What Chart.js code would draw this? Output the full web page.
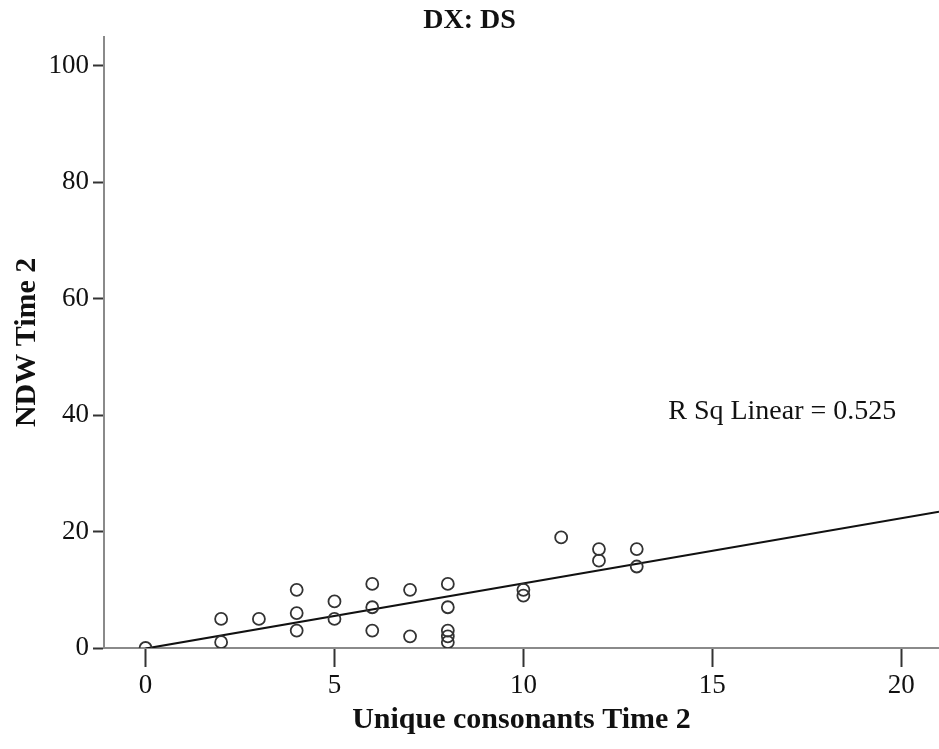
<!DOCTYPE html>
<html>
<head>
<meta charset="utf-8">
<script src="https://cdn.jsdelivr.net/npm/chart.js@4/dist/chart.umd.min.js"></script>
<style>
  html, body { margin: 0; padding: 0; background: #fff; }
  #wrap { width: 939px; height: 749px; }
</style>
</head>
<body>
<div id="wrap"><canvas id="scatter"></canvas></div>
<script>
// ---- data ----
const xValues = [0, 2, 2, 3, 4, 4, 4, 5, 5, 6, 6, 6, 7, 7, 8, 8, 8, 8, 8, 10, 10, 11, 12, 12, 13, 13];
const yValues = [0, 5, 1, 5, 10, 6, 3, 8, 5, 11, 7, 3, 10, 2, 11, 7, 3, 2, 1, 10, 9, 19, 17, 15, 17, 14];
// fit line end points (as drawn)
const fitX = [0, 21];
const fitY = [-0.1, 23.4];
const xTicks = [0, 5, 10, 15, 20];
const yTicks = [0, 20, 40, 60, 80, 100];
const rsqText = 'R Sq Linear = 0.525';

const FONT = "'Liberation Serif', 'Times New Roman', serif";

const points = xValues.map((x, i) => ({ x: x, y: yValues[i] }));
const fitLine = fitX.map((x, i) => ({ x: x, y: fitY[i] }));

// annotation text, placed in data units
const rsqLabel = {
    id: 'rsqLabel',
    afterDatasetsDraw(chart) {
        const { ctx, scales } = chart;
        ctx.save();
        ctx.font = '28px ' + FONT;
        ctx.fillStyle = '#111';
        ctx.textAlign = 'right';
        ctx.textBaseline = 'middle';
        ctx.fillText(rsqText, scales.x.getPixelForValue(19.87), scales.y.getPixelForValue(40.6));
        ctx.restore();
    }
};

new Chart(document.getElementById('scatter').getContext('2d'), {
    type: 'scatter',
    data: {
        datasets: [
            {
                label: 'points',
                data: points,
                pointStyle: 'circle',
                pointRadius: 6,
                pointHoverRadius: 6,
                borderWidth: 1.8,
                borderColor: '#333',
                backgroundColor: 'rgba(0,0,0,0)'
            },
            {
                label: 'fit',
                data: fitLine,
                showLine: true,
                pointRadius: 0,
                borderColor: '#111',
                borderWidth: 2
            }
        ]
    },
    options: {
        responsive: true,
        maintainAspectRatio: false,
        animation: false,
        layout: { padding: 0, autoPadding: false },
        plugins: {
            legend: { display: false },
            tooltip: { enabled: false },
            title: {
                display: true,
                text: 'DX: DS',
                color: '#111',
                font: { family: FONT, size: 28, weight: 'bold', lineHeight: 1.1 },
                padding: { top: 5, bottom: 1 }
            }
        },
        scales: {
            x: {
                type: 'linear',
                min: -1.1,
                max: 21,
                afterBuildTicks: (axis) => { axis.ticks = xTicks.map(v => ({ value: v })); },
                afterFit: (axis) => { axis.height = 101; axis.paddingRight = 0; axis.paddingLeft = 0; },
                border: { display: true, color: '#8a8a8a', width: 2 },
                grid: { drawOnChartArea: false, drawTicks: true, tickLength: 19, tickColor: '#333', tickWidth: 2 },
                ticks: { color: '#111', padding: 3, font: { family: FONT, size: 27 } },
                title: {
                    display: true,
                    text: 'Unique consonants Time 2',
                    color: '#111',
                    font: { family: FONT, size: 30, weight: 'bold' },
                    padding: { top: 0, bottom: 11 }
                }
            },
            y: {
                type: 'linear',
                min: 0,
                max: 105,
                afterBuildTicks: (axis) => { axis.ticks = yTicks.map(v => ({ value: v })); },
                afterFit: (axis) => { axis.width = 104; },
                border: { display: true, color: '#8a8a8a', width: 2 },
                grid: { drawOnChartArea: false, drawTicks: true, tickLength: 11, tickColor: '#333', tickWidth: 2 },
                ticks: { color: '#111', padding: 4, font: { family: FONT, size: 27 } },
                title: {
                    display: true,
                    text: 'NDW Time 2',
                    color: '#111',
                    font: { family: FONT, size: 30, weight: 'bold' },
                    padding: { top: 9, bottom: 0 }
                }
            }
        }
    },
    plugins: [rsqLabel]
});
</script>
</body>
</html>
